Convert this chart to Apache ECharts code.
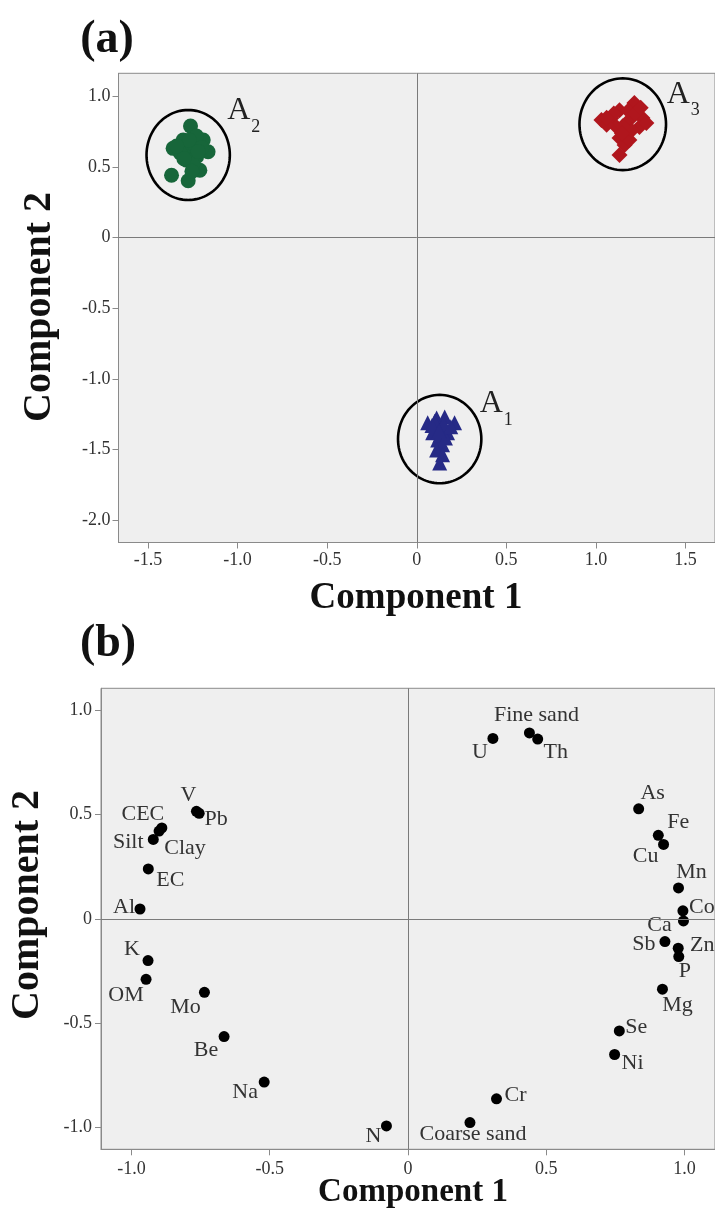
<!DOCTYPE html>
<html>
<head>
<meta charset="utf-8">
<script src="https://cdn.jsdelivr.net/npm/echarts@6/dist/echarts.min.js"></script>
<style>
  html, body { margin: 0; padding: 0; background: #ffffff; }
  #chart { width: 715px; height: 1211px; }
</style>
</head>
<body>
<div id="chart"></div>
<script>
// ---------- Panel (a): component scores of the sampling groups ----------
const groupA1 = [
  [0.111, -1.277], [0.156, -1.270], [0.061, -1.312], [0.211, -1.312],
  [0.128, -1.348], [0.089, -1.383], [0.172, -1.383], [0.117, -1.433],
  [0.144, -1.468], [0.111, -1.504], [0.144, -1.539], [0.128, -1.596],
  [0.100, -1.300], [0.150, -1.320], [0.130, -1.400], [0.160, -1.420],
  [0.085, -1.330], [0.190, -1.340], [0.125, -1.370]
];
const groupA2 = [
  [-1.263, 0.791], [-1.360, 0.633], [-1.304, 0.692], [-1.192, 0.692],
  [-1.165, 0.609], [-1.267, 0.621], [-1.285, 0.550], [-1.229, 0.574],
  [-1.211, 0.478], [-1.369, 0.443], [-1.276, 0.404], [-1.240, 0.660],
  [-1.320, 0.600], [-1.250, 0.520], [-1.230, 0.720], [-1.270, 0.690],
  [-1.300, 0.560], [-1.200, 0.640], [-1.255, 0.470], [-1.340, 0.650],
  [-1.220, 0.610]
];
const groupA3 = [
  [1.215, 0.954], [1.132, 0.904], [1.260, 0.848], [1.031, 0.834],
  [1.087, 0.848], [1.187, 0.834], [1.115, 0.784], [1.243, 0.784],
  [1.171, 0.749], [1.132, 0.706], [1.160, 0.657], [1.132, 0.586],
  [1.187, 0.692], [1.282, 0.812], [1.180, 0.900], [1.060, 0.800],
  [1.100, 0.880], [1.220, 0.880], [1.200, 0.760], [1.150, 0.790],
  [1.060, 0.850], [1.250, 0.920], [1.145, 0.740]
];
// cluster outlines: [centre C1, centre C2, half-width C1, half-height C2]
const clusterNames = ['1', '2', '3'];
const clusterEllipses = [
  [0.128, -1.427, 0.2326, 0.313],
  [-1.276, 0.586, 0.2326, 0.319],
  [1.150, 0.804, 0.2416, 0.325]
];
const ticksAx = [-1.5, -1.0, -0.5, 0, 0.5, 1.0, 1.5];
const ticksAy = [-2.0, -1.5, -1.0, -0.5, 0, 0.5, 1.0];

// ---------- Panel (b): variable loadings ----------
const variables = ['U', 'Fine sand', 'Th', 'As', 'Fe', 'Cu', 'Mn', 'Co', 'Ca', 'Sb',
  'Zn', 'P', 'Mg', 'Se', 'Ni', 'Cr', 'Coarse sand', 'N', 'Na', 'Be',
  'Mo', 'OM', 'K', 'Al', 'EC', 'Silt', 'Clay', 'CEC', 'V', 'Pb'];
const loading1 = [0.307, 0.439, 0.469, 0.834, 0.905, 0.924, 0.978, 0.994, 0.996, 0.929,
  0.977, 0.979, 0.920, 0.764, 0.747, 0.320, 0.224, -0.078, -0.520, -0.665,
  -0.736, -0.947, -0.940, -0.969, -0.939, -0.921, -0.900, -0.890, -0.765, -0.755];
const loading2 = [0.864, 0.890, 0.861, 0.527, 0.400, 0.356, 0.148, 0.038, -0.010, -0.109,
  -0.141, -0.181, -0.337, -0.537, -0.650, -0.862, -0.976, -0.992, -0.782, -0.564,
  -0.352, -0.290, -0.200, 0.047, 0.239, 0.380, 0.420, 0.435, 0.515, 0.505];
const ticksB = [-1.0, -0.5, 0, 0.5, 1.0];

// label placement around each loading dot, in pixels [dx, dy]
const labelShift = {
  'U': [-13, 14], 'Fine sand': [7, -18], 'Th': [18, 13], 'As': [14, -16],
  'Fe': [20, -13], 'Cu': [-18, 12], 'Mn': [13, -16], 'Co': [19, -4],
  'Ca': [-24, 4], 'Sb': [-21, 3], 'Zn': [24, -3], 'P': [6, 15],
  'Mg': [15, 16], 'Se': [17, -4], 'Ni': [18, 9], 'Cr': [19, -4],
  'Coarse sand': [3, 12], 'N': [-13, 10], 'Na': [-19, 10], 'Be': [-18, 14],
  'Mo': [-19, 15], 'OM': [-20, 16], 'K': [-16, -11], 'Al': [-16, -2],
  'EC': [22, 11], 'Silt': [-25, 3], 'Clay': [26, 17], 'CEC': [-19, -14],
  'V': [-8, -16], 'Pb': [17, 6]
};
// group letter placement relative to its outline centre, pixels
const clusterLabelShift = [[40, -19], [39, -28], [44, -14]];

const SERIF = "'Liberation Serif', 'DejaVu Serif', serif";
const fmtTick = v => (Math.abs(v) < 1e-9 ? '0' : v.toFixed(1));

function valueAxis(gridIndex, min, max, ticks, margin) {
  return {
    type: 'value', gridIndex, min, max,
    axisLine: { show: true, onZero: false, lineStyle: { color: '#8a8a8a', width: 1 } },
    axisTick: { show: true, length: 6, customValues: ticks, lineStyle: { color: '#8a8a8a', width: 1 } },
    axisLabel: {
      show: true, customValues: ticks, formatter: fmtTick, margin,
      fontFamily: SERIF, fontSize: 18, color: '#333'
    },
    splitLine: { show: false }
  };
}

const zeroLines = {
  silent: true, symbol: ['none', 'none'], animation: false,
  label: { show: false },
  lineStyle: { color: '#7a7a7a', width: 1, type: 'solid' },
  data: [{ xAxis: 0 }, { yAxis: 0 }]
};

const chart = echarts.init(document.getElementById('chart'), null, { renderer: 'canvas' });

chart.setOption({
  animation: false,
  backgroundColor: '#ffffff',
  grid: [
    { left: 118.5, top: 73.3, width: 597, height: 469.2, show: true,
      backgroundColor: '#efefef', borderColor: '#8a8a8a', borderWidth: 1 },
    { left: 101, top: 688.3, width: 616, height: 461, show: true,
      backgroundColor: '#efefef', borderColor: '#8a8a8a', borderWidth: 1 }
  ],
  xAxis: [
    valueAxis(0, -1.665, 1.665, ticksAx, 9),
    valueAxis(1, -1.11, 1.11, ticksB, 11)
  ],
  yAxis: [
    valueAxis(0, -2.16, 1.165, ticksAy, 8),
    valueAxis(1, -1.104, 1.104, ticksB, 9)
  ],
  graphic: [
    { type: 'text', x: 107, y: 40, style: { text: '(a)', font: `bold 46px ${SERIF}`, fill: '#111', align: 'center', verticalAlign: 'middle' } },
    { type: 'text', x: 108, y: 644, style: { text: '(b)', font: `bold 46px ${SERIF}`, fill: '#111', align: 'center', verticalAlign: 'middle' } },
    { type: 'text', x: 416, y: 598, style: { text: 'Component 1', font: `bold 37px ${SERIF}`, fill: '#111', align: 'center', verticalAlign: 'middle' } },
    { type: 'text', x: 413, y: 1192, style: { text: 'Component 1', font: `bold 33px ${SERIF}`, fill: '#111', align: 'center', verticalAlign: 'middle' } },
    { type: 'text', x: 40, y: 307, rotation: Math.PI / 2, style: { text: 'Component 2', font: `bold 40px ${SERIF}`, fill: '#111', align: 'center', verticalAlign: 'middle' } },
    { type: 'text', x: 28, y: 905, rotation: Math.PI / 2, style: { text: 'Component 2', font: `bold 40px ${SERIF}`, fill: '#111', align: 'center', verticalAlign: 'middle' } }
  ],
  series: [
    {
      name: 'A1', type: 'scatter', xAxisIndex: 0, yAxisIndex: 0,
      data: groupA1, symbol: 'triangle', symbolSize: 15,
      itemStyle: { color: '#262a86', opacity: 1 }, markLine: zeroLines, z: 3
    },
    {
      name: 'A2', type: 'scatter', xAxisIndex: 0, yAxisIndex: 0,
      data: groupA2, symbol: 'circle', symbolSize: 15,
      itemStyle: { color: '#17663a', opacity: 1 }, z: 3
    },
    {
      name: 'A3', type: 'scatter', xAxisIndex: 0, yAxisIndex: 0,
      data: groupA3, symbol: 'diamond', symbolSize: 16,
      itemStyle: { color: '#b0161d', opacity: 1 }, z: 3
    },
    {
      name: 'clusters', type: 'custom', xAxisIndex: 0, yAxisIndex: 0, silent: true, z: 4,
      data: clusterEllipses.map((e, i) => [e[0], e[1], e[2], e[3], i]),
      renderItem(params, api) {
        const cx = api.value(0), cy = api.value(1), rx = api.value(2), ry = api.value(3);
        const idx = api.value(4);
        const pts = [];
        for (let k = 0; k <= 96; k++) {
          const t = (k / 96) * Math.PI * 2;
          pts.push(api.coord([cx + rx * Math.cos(t), cy + ry * Math.sin(t)]));
        }
        const c = api.coord([cx, cy]);
        const sh = clusterLabelShift[idx];
        const ax = c[0] + sh[0], ay = c[1] + sh[1];
        return {
          type: 'group',
          children: [
            { type: 'polygon', shape: { points: pts },
              style: { fill: 'none', stroke: '#000', lineWidth: 2.6 } },
            { type: 'text', x: ax, y: ay,
              style: { text: 'A', font: `32px ${SERIF}`, fill: '#222', align: 'left', verticalAlign: 'bottom' } },
            { type: 'text', x: ax + 24, y: ay + 9,
              style: { text: clusterNames[idx], font: `18px ${SERIF}`, fill: '#222', align: 'left', verticalAlign: 'bottom' } }
          ]
        };
      }
    },
    {
      name: 'loadings', type: 'scatter', xAxisIndex: 1, yAxisIndex: 1,
      symbol: 'circle', symbolSize: 11,
      itemStyle: { color: '#000', opacity: 1 },
      markLine: zeroLines,
      data: variables.map((name, i) => ({ name, value: [loading1[i], loading2[i]] })),
      label: {
        show: true, position: 'inside', formatter: '{b}',
        fontFamily: SERIF, fontSize: 22, color: '#333'
      },
      labelLayout(params) {
        const s = labelShift[variables[params.dataIndex]] || [0, 0];
        const r = params.rect;
        return {
          x: r.x + r.width / 2 + s[0],
          y: r.y + r.height / 2 + s[1],
          align: 'center', verticalAlign: 'middle', hideOverlap: false
        };
      }
    }
  ]
});
</script>
</body>
</html>
